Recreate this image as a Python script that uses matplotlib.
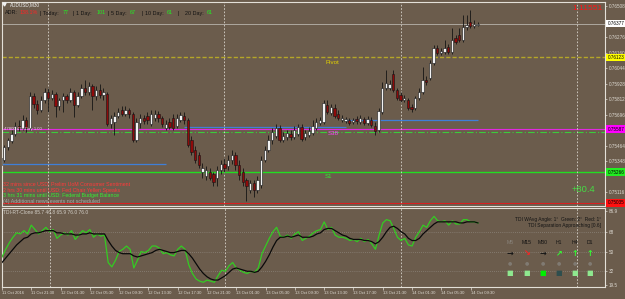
import matplotlib
matplotlib.use('Agg')
import matplotlib.pyplot as plt
from matplotlib import font_manager as fm
import numpy as np

def pick(fams, default='DejaVu Sans'):
    for f in fams:
        try:
            fm.findfont(fm.FontProperties(family=f), fallback_to_default=False)
            return f
        except Exception:
            pass
    return default

SANS = pick(['Liberation Sans', 'Arial'])
NARROW = pick(['Liberation Sans Narrow', 'Arial Narrow'], default=None)
plt.rcParams['font.family'] = [SANS, 'DejaVu Sans']

# ---------------- data ----------------
opens = [
0.75319, 0.75356, 0.75453, 0.75498, 0.75551, 0.75610, 0.75596, 0.75655, 0.75596, 0.75835,
0.75775, 0.75730, 0.75805, 0.75865, 0.75820, 0.75850, 0.75760, 0.75805, 0.75835, 0.75805,
0.75865, 0.75768, 0.75835, 0.75895, 0.75865, 0.75910, 0.75835, 0.75880, 0.75842, 0.75850,
0.75625, 0.75640, 0.75685, 0.75730, 0.75700, 0.75730, 0.75700, 0.75506, 0.75633, 0.75670,
0.75685, 0.75625, 0.75670, 0.75700, 0.75670, 0.75596, 0.75640, 0.75670, 0.75610, 0.75655,
0.75685, 0.75655, 0.75506, 0.75431, 0.75394, 0.75266, 0.75236, 0.75266, 0.75251, 0.75221,
0.75281, 0.75326, 0.75311, 0.75356, 0.75394, 0.75319, 0.75266, 0.75207, 0.75132, 0.75184,
0.75132, 0.75169, 0.75356, 0.75431, 0.75506, 0.75536, 0.75596, 0.75506, 0.75528, 0.75551,
0.75528, 0.75551, 0.75603, 0.75528, 0.75543, 0.75558, 0.75596, 0.75633, 0.75640, 0.75768,
0.75708, 0.75745, 0.75700, 0.75655, 0.75648, 0.75655, 0.75640, 0.75663, 0.75640, 0.75663,
0.75633, 0.75655, 0.75610, 0.75581, 0.75715, 0.75895, 0.75895, 0.75999, 0.75880, 0.75842,
0.75805, 0.75805, 0.75753, 0.75745, 0.75820, 0.75865, 0.75955, 0.75970, 0.76082, 0.76194,
0.76157, 0.76164, 0.76201, 0.76164, 0.76269, 0.76291, 0.76254, 0.76351, 0.76388, 0.76359,
0.76366]
highs = [
0.75386, 0.75468, 0.75521, 0.75581, 0.75640, 0.75655, 0.75693, 0.75678, 0.75865, 0.75857,
0.75805, 0.75835, 0.75895, 0.75895, 0.75880, 0.75865, 0.75820, 0.75857, 0.75850, 0.75895,
0.75880, 0.75865, 0.75925, 0.75955, 0.75940, 0.75925, 0.75910, 0.75925, 0.75895, 0.75865,
0.75693, 0.75715, 0.75745, 0.75760, 0.75760, 0.75745, 0.75715, 0.75670, 0.75700, 0.75693,
0.75715, 0.75730, 0.75730, 0.75723, 0.75685, 0.75655, 0.75670, 0.75700, 0.75700, 0.75715,
0.75715, 0.75670, 0.75536, 0.75461, 0.75416, 0.75334, 0.75311, 0.75296, 0.75266, 0.75311,
0.75356, 0.75371, 0.75394, 0.75431, 0.75416, 0.75356, 0.75296, 0.75221, 0.75207, 0.75207,
0.75236, 0.75386, 0.75461, 0.75543, 0.75596, 0.75625, 0.75618, 0.75566, 0.75581, 0.75581,
0.75610, 0.75625, 0.75625, 0.75581, 0.75603, 0.75655, 0.75670, 0.75678, 0.75805, 0.75805,
0.75775, 0.75775, 0.75730, 0.75693, 0.75678, 0.75670, 0.75670, 0.75685, 0.75693, 0.75678,
0.75685, 0.75678, 0.75640, 0.75745, 0.75940, 0.76029, 0.75955, 0.76029, 0.75895, 0.75865,
0.75842, 0.75820, 0.75775, 0.75835, 0.75895, 0.76052, 0.75984, 0.76104, 0.76217, 0.76217,
0.76194, 0.76254, 0.76224, 0.76344, 0.76291, 0.76344, 0.76441, 0.76441, 0.76478, 0.76403,
0.76388]
lows = [
0.75296, 0.75341, 0.75431, 0.75483, 0.75536, 0.75573, 0.75581, 0.75566, 0.75581, 0.75745,
0.75700, 0.75715, 0.75783, 0.75715, 0.75805, 0.75678, 0.75730, 0.75715, 0.75783, 0.75790,
0.75678, 0.75753, 0.75820, 0.75842, 0.75842, 0.75730, 0.75805, 0.75820, 0.75805, 0.75610,
0.75596, 0.75543, 0.75670, 0.75685, 0.75685, 0.75670, 0.75491, 0.75491, 0.75596, 0.75625,
0.75625, 0.75610, 0.75648, 0.75640, 0.75603, 0.75581, 0.75588, 0.75581, 0.75596, 0.75640,
0.75625, 0.75453, 0.75394, 0.75334, 0.75296, 0.75221, 0.75207, 0.75207, 0.75162, 0.75162,
0.75251, 0.75266, 0.75281, 0.75326, 0.75281, 0.75207, 0.75162, 0.75050, 0.75109, 0.75079,
0.75109, 0.75147, 0.75341, 0.75416, 0.75476, 0.75521, 0.75491, 0.75491, 0.75506, 0.75506,
0.75513, 0.75536, 0.75498, 0.75506, 0.75528, 0.75543, 0.75581, 0.75618, 0.75625, 0.75700,
0.75693, 0.75670, 0.75655, 0.75640, 0.75633, 0.75618, 0.75625, 0.75625, 0.75625, 0.75618,
0.75618, 0.75603, 0.75543, 0.75566, 0.75700, 0.75880, 0.75880, 0.75865, 0.75805, 0.75790,
0.75790, 0.75730, 0.75715, 0.75730, 0.75805, 0.75850, 0.75917, 0.75955, 0.76067, 0.76142,
0.76142, 0.76149, 0.76149, 0.76149, 0.76224, 0.76239, 0.76239, 0.76329, 0.76344, 0.76344,
0.76359]
closes = [
0.75371, 0.75453, 0.75506, 0.75551, 0.75610, 0.75596, 0.75655, 0.75596, 0.75835, 0.75775,
0.75730, 0.75805, 0.75865, 0.75820, 0.75850, 0.75760, 0.75805, 0.75835, 0.75805, 0.75865,
0.75768, 0.75835, 0.75895, 0.75865, 0.75910, 0.75835, 0.75880, 0.75842, 0.75865, 0.75625,
0.75670, 0.75685, 0.75715, 0.75700, 0.75730, 0.75700, 0.75506, 0.75640, 0.75670, 0.75648,
0.75655, 0.75700, 0.75700, 0.75670, 0.75625, 0.75625, 0.75603, 0.75596, 0.75670, 0.75693,
0.75655, 0.75468, 0.75416, 0.75356, 0.75319, 0.75296, 0.75281, 0.75221, 0.75192, 0.75281,
0.75326, 0.75296, 0.75356, 0.75394, 0.75319, 0.75244, 0.75192, 0.75162, 0.75184, 0.75132,
0.75207, 0.75356, 0.75431, 0.75506, 0.75566, 0.75596, 0.75506, 0.75536, 0.75558, 0.75528,
0.75581, 0.75603, 0.75513, 0.75558, 0.75573, 0.75610, 0.75640, 0.75655, 0.75783, 0.75715,
0.75753, 0.75685, 0.75670, 0.75670, 0.75663, 0.75633, 0.75655, 0.75648, 0.75670, 0.75633,
0.75663, 0.75618, 0.75573, 0.75723, 0.75895, 0.75932, 0.75925, 0.75880, 0.75820, 0.75805,
0.75820, 0.75745, 0.75738, 0.75820, 0.75865, 0.75955, 0.75940, 0.76082, 0.76194, 0.76157,
0.76172, 0.76194, 0.76164, 0.76254, 0.76239, 0.76254, 0.76351, 0.76366, 0.76359, 0.76373,
0.76377]

tdi_green = [45, 52, 58, 63, 67, 66, 69, 66, 74,
             70, 66, 69, 72, 68, 70, 62,
             65, 67, 65, 69, 61, 65, 69,
             67, 70, 63, 66, 64, 65,
             40, 36, 42, 50, 52, 55, 52,
             35, 42, 50, 49, 51, 55, 55,
             53, 48, 49, 47, 46, 52, 55, 52,
             38, 30, 25, 23,
             22, 24, 23, 22, 28, 33,
             32, 37, 40, 35, 33, 31,
             30, 32, 31, 35,
             48, 55, 62, 68, 72,
             64, 63, 65, 62, 66, 68, 60,
             62, 64, 67, 69, 70, 77,
             70, 72, 65, 63, 63, 62, 60,
             61, 59, 62, 59, 61, 57, 52,
             65, 76, 79, 78, 71,
             63, 60, 62, 56, 55, 63, 68,
             74, 72, 78, 82, 78, 77,
             78, 74, 78, 75, 75,
             79, 79, 77, 77, 76]
tdi_signal = [40, 44, 48, 52, 56, 59, 62, 63, 66,
              67, 67, 68, 69, 69, 69, 67,
              67, 66, 66, 66, 65, 65, 66,
              66, 67, 66, 66, 66, 66,
              60, 55, 51, 49, 48, 48, 48,
              46, 45, 46, 47, 48, 49, 51,
              52, 51, 50, 49, 49, 50, 51, 51,
              48, 44, 39, 34,
              30, 27, 25, 24, 24, 26,
              28, 31, 34, 35, 34, 33,
              32, 32, 31, 32,
              36, 41, 47, 54, 60,
              63, 63, 64, 63, 64, 65, 63,
              63, 63, 64, 66, 67, 70,
              71, 71, 69, 67, 65, 64, 62,
              61, 61, 61, 60, 60, 59, 57,
              59, 63, 68, 72, 73,
              71, 68, 66, 62, 60, 60, 62,
              66, 69, 72, 75, 77, 77,
              77, 77, 77, 77, 76,
              76, 77, 77, 77, 76]

date_labels = ["11 Oct 2016", "11 Oct 21:30", "12 Oct 01:30", "12 Oct 05:30", "12 Oct 09:30",
               "12 Oct 13:30", "12 Oct 17:30", "12 Oct 21:30", "13 Oct 01:30", "13 Oct 05:30",
               "13 Oct 09:30", "13 Oct 13:30", "13 Oct 17:30", "13 Oct 21:30", "14 Oct 01:30",
               "14 Oct 05:30", "14 Oct 09:30"]
date_bars = [0, 8, 16, 24, 32, 40, 48, 56, 64, 72, 80, 88, 96, 104, 112, 120, 128]
day_separators = [13, 61, 109, 157]

price_ticks = [0.76508, 0.76276, 0.76160, 0.76044, 0.75928, 0.75812, 0.75696,
               0.75464, 0.75348, 0.75116]
tdi_ticks = [86.9, 68, 50, 32, 19.5]
tdi_tick_labels = ["86.9", "68", "50", "32", "19.5"]

current_price = 0.76377
pivot = 0.76123
fib_level = 0.75587
s38_dash = 0.75566
s1 = 0.75266
red_level = 0.75035
blue_segments = [(0, 45, 0.75326), (50, 94, 0.75603), (94, 130, 0.75655)]

adr_parts = [("ADR:", 'k'), ("138.1%", 'r'), ("| Today:", 'k'), ("77", 'g'),
             ("| 1 Day:", 'k'), ("101", 'g'), ("| 5 Day:", 'k'), ("67", 'g'),
             ("| 10 Day:", 'k'), ("61", 'g'), ("|", 'k'), ("20 Day:", 'k'), ("61", 'g')]
adr_x = [5, 20, 40, 63, 73, 97, 108, 130, 142, 167, 178, 185, 207]

news = [("32 mins since USD: Prelim UoM Consumer Sentiment", '#FF3A3A'),
        ("2 hrs 30 mins until USD: Fed Chair Yellen Speaks", '#FF3A3A'),
        ("3 hrs 31 mins until USD: Federal Budget Balance", '#33F033'),
        ("(4) Additional news events not scheduled", '#A8A8A8')]

tf_names = ["M5", "M15", "M30", "H1", "H4", "D1"]
tf_arrows = ["→", "↘", "→", "↗", "↑", "↑"]
tf_arrow_colors = ['#151515', '#FF2020', '#151515', '#33FF33', '#33FF33', '#33FF33']
tf_square_colors = ['#8FE88F', '#8FE88F', '#00F000', '#2E4E4E', '#8FE88F', '#8FE88F']
tf_x = [510, 527, 543, 559, 575, 590]

# ---------------- figure ----------------
BG = '#6B5C4C'
FRAME = '#E4E0D8'
LBL = '#DEDAD2'
W, H = 625, 299
fig = plt.figure(figsize=(W / 100, H / 100), dpi=100)
fig.patch.set_facecolor(BG)

def fx(x):
    return x / W

def fy(y):
    return 1 - y / H

def T(x, y, s, **kw):
    kw.setdefault('va', 'center')
    kw.setdefault('ha', 'left')
    return fig.text(fx(x), fy(y), s, **kw)

ax = fig.add_axes([fx(2), fy(206), (605 - 2) / W, (206 - 2) / H])
ax2 = fig.add_axes([fx(2), fy(287), (605 - 2) / W, (287 - 208) / H])
for a in (ax, ax2):
    a.set_facecolor(BG)
    for sp in a.spines.values():
        sp.set_color(FRAME)
        sp.set_linewidth(0.8)
    a.set_xlim(0.38, 164.7)

ax.set_ylim(0.75012, 0.76538)
ax2.set_ylim(17.7, 89.6)

idx = np.arange(len(closes))
o = np.array(opens); c = np.array(closes); h = np.array(highs); l = np.array(lows)

# level lines
ax.axhline(current_price, color='#B8B4AC', lw=0.6, zorder=1)
ax.axhline(pivot, color='#B4A628', lw=1.0, ls=(0, (3, 1.5)), zorder=1)
ax.axhline(fib_level, color='#E028E0', lw=0.8, zorder=1)
ax.axhline(s38_dash, color='#3CCB3C', lw=0.8, ls=(0, (6, 2, 1, 2)), zorder=1)
ax.axhline(s1, color='#22DD22', lw=1.0, zorder=1)
ax.axhline(red_level, color='#D82020', lw=0.8, zorder=1)
for x0, x1, lv in blue_segments:
    ax.hlines(lv, x0, x1, color='#3F7FD8', lw=0.9, zorder=1)

for d in day_separators:
    ax.axvline(d, color='#D8D4CC', lw=0.6, ls=(0, (2, 2)), zorder=1.2)
    ax2.axvline(d, color='#D8D4CC', lw=0.6, ls=(0, (2, 2)), zorder=1.2)

# candles
ax.vlines(idx, l, h, color='#151515', lw=0.6, zorder=2)
up = c >= o
body_lo = np.minimum(o, c)
body_h = np.maximum(np.abs(c - o), 0.00002)
ax.bar(idx[up], body_h[up], bottom=body_lo[up], width=0.64, color='#F2F2F2',
       edgecolor='#151515', linewidth=0.4, zorder=3)
ax.bar(idx[~up], body_h[~up], bottom=body_lo[~up], width=0.64, color='#8E0A0A',
       edgecolor='#151515', linewidth=0.4, zorder=3)

# level texts
ax.annotate('Pivot', (88.4, pivot), xytext=(0, -3.6), textcoords='offset points',
            color='#E6D400', fontsize=4.4, va='center', ha='left')
ax.annotate('S38', (89, fib_level), xytext=(0, -3.0), textcoords='offset points',
            color='#FF40FF', fontsize=4.4, va='center', ha='left')
ax.annotate('S1', (88.4, s1), xytext=(0, -2.9), textcoords='offset points',
            color='#33EE33', fontsize=4.4, va='center', ha='left')
ax.annotate('47800 478 Day 1.00', (1.0, fib_level), xytext=(0, 0.2), textcoords='offset points',
            color='#F0C8F0', fontsize=3.1, va='center', ha='left')

# right price axis
ax.yaxis.tick_right()
ax.set_yticks(price_ticks)
ax.set_yticklabels([f"{p:.5f}" for p in price_ticks])
ax.tick_params(axis='y', labelsize=3.3, colors=LBL, length=1.5, width=0.5, pad=1)
ax.set_xticks([])
ytr = ax.get_yaxis_transform()
for lv, fc, tc in [(current_price, '#FFFFFF', '#000000'), (pivot, '#FFFF00', '#000000'),
                   (fib_level, '#FF00FF', '#000000'), (s1, '#22EE22', '#000000'),
                   (red_level, '#FF1010', '#000000')]:
    ax.text(1.004, lv, f"{lv:.5f}", transform=ytr, fontsize=3.3, color=tc, ha='left',
            va='center', bbox=dict(boxstyle='square,pad=0.25', fc=fc, ec='none'),
            clip_on=False, zorder=5)

# indicator
ax2.plot(idx, tdi_green, color='#33CC22', lw=0.9, zorder=3)
ax2.plot(idx, tdi_signal, color='#0A0A0A', lw=0.9, zorder=3)
for lv in (68, 50, 32):
    ax2.axhline(lv, color='#9A948C', lw=0.5, ls=(0, (1, 2)), zorder=1)
ax2.yaxis.tick_right()
ax2.set_yticks(tdi_ticks)
ax2.set_yticklabels(tdi_tick_labels)
ax2.tick_params(axis='y', labelsize=3.3, colors=LBL, length=1.5, width=0.5, pad=1)
dfont = NARROW if NARROW else SANS
dsize = 3.6 if NARROW else 3.0
ax2.set_xticks(date_bars)
ax2.set_xticklabels(date_labels, ha='left', fontsize=dsize, family=dfont)
ax2.tick_params(axis='x', colors=LBL, length=2, width=0.5, pad=1.2)

# header texts
fig.lines.append(plt.Line2D([fx(4)], [fy(4.3)], marker='v', ms=2.2, color='#F0F0F0',
                            transform=fig.transFigure))
T(10, 4.5, "AUDUSD,M30", color='#F4F4F4', fontsize=3.3)
cmap = {'k': '#121212', 'r': '#FF2424', 'g': '#22EE22'}
for (s, col), xp in zip(adr_parts, adr_x):
    T(xp, 13, s, color=cmap[col], fontsize=3.9)
T(603, 8, "1.11551", color='#FF1414', fontsize=6.0, ha='right')
T(572, 190, "+80.4", color='#44DD44', fontsize=6.8)

for k, (s, col) in enumerate(news):
    T(3, 185 + 5.5 * k, s, color=col, fontsize=3.8)

T(3, 212, "TDI-RT-Clone 85.7 46.8 65.9 76.0 76.0", color='#D2CEC6', fontsize=3.5)
T(601, 219, "TDI WAvg Angle: 1°  Green: 2°  Red: 1°", color='#141414', fontsize=3.5, ha='right')
T(601, 226, "TDI Separation Approaching [0.6]", color='#141414', fontsize=3.5, ha='right')

for k, name in enumerate(tf_names):
    xp = tf_x[k]
    T(xp, 243, name, color='#8A847C' if k == 0 else '#121212', fontsize=3.7, ha='center')
    T(xp, 253, tf_arrows[k], color=tf_arrow_colors[k], fontsize=5.8, ha='center',
      family='DejaVu Sans', fontweight='bold')
    T(xp, 263, "●", color='#807A72', fontsize=3.6, ha='center', family='DejaVu Sans')
    T(xp, 273, "■", color=tf_square_colors[k], fontsize=5.0, ha='center', family='DejaVu Sans')

fig.savefig('out.png', dpi=100, facecolor=BG)
